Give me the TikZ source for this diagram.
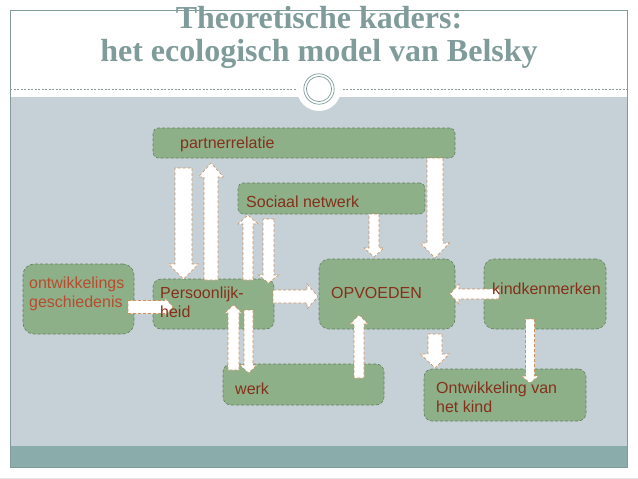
\documentclass[tikz,border=0pt]{standalone}
\usepackage{fontspec}
\setmainfont{Liberation Sans}
\newfontfamily\titlefont{Liberation Serif}
\usetikzlibrary{calc}
\definecolor{cframe}{HTML}{7F9C9A}
\definecolor{cdash}{HTML}{8C9A9A}
\definecolor{cpanel}{HTML}{C6D1D7}
\definecolor{cband}{HTML}{8AADAC}
\definecolor{cgreen}{HTML}{8DB089}
\definecolor{cgreenline}{HTML}{62815F}
\definecolor{carrow}{HTML}{C99260}
\definecolor{ctext}{HTML}{85301A}
\definecolor{corange}{HTML}{B94B2D}
\tikzset{
  shaftw/.store in=\blkshaft, headw/.store in=\blkhead, headl/.store in=\blktip,
  shaftw=16pt, headw=29pt, headl=15pt,
  box/.style={draw=cgreenline, fill=cgreen, densely dashed, line width=0.6pt, rounded corners=8pt, inner sep=0pt, outer sep=0pt},
  lbl/.style={font=\fontsize{16}{18.5}\selectfont, text=ctext, align=left, inner sep=0pt, anchor=base west},
  title/.style={font=\titlefont\bfseries\fontsize{32}{33}\selectfont, text=cframe, align=center, inner sep=0pt, anchor=base},
  blk/.style={draw=carrow, fill=white, densely dashed, line width=0.6pt,
    to path={let \p1=(\tikztostart), \p2=(\tikztotarget), \p3=($(\p2)!\blktip!(\p1)$) in
      ($(\p1)!\blkshaft/2!90:(\p2)$) -- ($(\p3)!\blkshaft/2!90:(\p2)$) -- ($(\p3)!\blkhead/2!90:(\p2)$) -- (\p2)
      -- ($(\p3)!\blkhead/2!-90:(\p2)$) -- ($(\p3)!\blkshaft/2!-90:(\p2)$) -- ($(\p1)!\blkshaft/2!-90:(\p2)$) -- cycle}},
  narrow/.style={shaftw=10pt, headw=20pt, headl=9pt},
}

\begin{document}
\begin{tikzpicture}[x=1pt, y=-1pt]
  \useasboundingbox (0,0) rectangle (638,479);
  \fill[white] (0,0) rectangle (638,479);
  \fill[cpanel] (10,97) rectangle (627,446);
  \fill[cband] (10,446) rectangle (627,467);
  \draw[cframe, line width=1pt] (10,10) rectangle (627,467);
  \draw[black!10, line width=0.6pt] (0,478) -- (638,478);
  \draw[cdash, dash pattern=on 2pt off 1.5pt, line width=0.5pt] (10,89) -- (627,89);
  \node[circle, fill=white, minimum size=44pt, inner sep=0pt] (halo) at (319,89) {};
  \draw[cframe, line width=0.7pt] (halo.center) circle[radius=15.2pt] (halo.center) circle[radius=12.6pt];
  \node[title] (ttl) at (319,61) {Theoretische kaders:\\het ecologisch model van Belsky};

  \node[box, rounded corners=5pt, minimum width=302pt, minimum height=30pt] (partner) at (304,143) {};
  \node[box, rounded corners=5pt, minimum width=187pt, minimum height=31pt] (netwerk) at (331.5,198.5) {};
  \node[box, minimum width=121pt, minimum height=50pt] (pers) at (213.5,304) {};
  \node[box, rounded corners=11pt, minimum width=111pt, minimum height=70pt] (hist) at (78.5,299) {};
  \node[box, rounded corners=10pt, minimum width=136pt, minimum height=70pt] (opv) at (387,294) {};
  \node[box, rounded corners=10pt, minimum width=122pt, minimum height=70pt] (kind) at (545,294) {};
  \node[box, minimum width=161pt, minimum height=41pt] (werk) at (303.5,384.5) {};
  \node[box, minimum width=162pt, minimum height=52pt] (ontw) at (505,395) {};

  \draw[blk, shaftw=17pt, headw=30pt] ([xshift=-120.5pt, yshift=-10pt]partner.south) to ([xshift=-30pt]pers.north);
  \draw[blk, shaftw=14pt, headw=25pt, headl=14pt] ([xshift=-2.5pt, yshift=-1pt]pers.north) to ([xshift=-93pt, yshift=-5pt]partner.south);
  \draw[blk, narrow] ([xshift=34.5pt, yshift=-1pt]pers.north) to ([xshift=-83.5pt, yshift=-1pt]netwerk.south);
  \draw[blk, narrow, shaftw=11pt, headl=8pt] ([xshift=-63pt, yshift=-5pt]netwerk.south) to ([xshift=55pt, yshift=-4pt]pers.north);
  \draw[blk, narrow] ([xshift=42.5pt]netwerk.south) to ([xshift=-13pt, yshift=2pt]opv.north);
  \draw[blk] ([xshift=131pt]partner.south) to ([xshift=48pt, yshift=1pt]opv.north);
  \draw[blk, shaftw=13pt, headw=18pt, headl=8pt] ([xshift=-6pt, yshift=-8pt]hist.east) to ([xshift=20pt, yshift=-3pt]pers.west);
  \draw[blk, shaftw=13pt, headw=25pt, headl=11pt] ([xshift=-1pt, yshift=7.5pt]pers.east) to ([xshift=-1pt, yshift=-2.5pt]opv.west);
  \draw[blk, narrow] ([xshift=15pt]kind.west) to ([xshift=-5pt]opv.east);
  \draw[blk, shaftw=11pt, headw=17pt, headl=8pt] ([xshift=-70pt, yshift=-6pt]werk.north) to ([xshift=20pt, yshift=24pt]pers.south);
  \draw[blk, shaftw=9pt, headw=17pt, headl=8pt] ([xshift=35pt, yshift=19pt]pers.south) to ([xshift=-55pt, yshift=-9pt]werk.north);
  \draw[blk, narrow, headw=18pt] ([xshift=55.5pt, yshift=-14pt]werk.north) to ([xshift=-28pt, yshift=14pt]opv.south);
  \draw[blk, shaftw=14pt, headl=14pt] ([xshift=48pt, yshift=-5pt]opv.south) to ([xshift=-70pt, yshift=1pt]ontw.north);
  \draw[blk, shaftw=9pt, headw=17pt, headl=7pt] ([xshift=-15pt, yshift=10pt]kind.south) to ([xshift=25pt, yshift=-14pt]ontw.north);

  \node[lbl] (partner-t) at ([xshift=27pt, yshift=-5pt]partner.west) {partnerrelatie};
  \node[lbl] (netwerk-t) at ([xshift=8pt, yshift=-8.5pt]netwerk.west) {Sociaal netwerk};
  \node[lbl] (pers-t) at ([xshift=7pt, yshift=-13pt]pers.west) {Persoonlijk-\\heid};
  \node[lbl, text=corange] (hist-t) at ([xshift=6pt, yshift=-8pt]hist.west) {ontwikkelings\\geschiedenis};
  \node[lbl] (opv-t) at ([xshift=12pt, yshift=-4pt]opv.west) {OPVOEDEN};
  \node[lbl] (kind-t) at ([xshift=8pt]kind.west) {kindkenmerken};
  \node[lbl] (werk-t) at ([xshift=12pt, yshift=-9.5pt]werk.west) {werk};
  \node[lbl] (ontw-t) at ([xshift=12pt, yshift=-17pt]ontw.west) {Ontwikkeling van\\het kind};
\end{tikzpicture}
\end{document}
